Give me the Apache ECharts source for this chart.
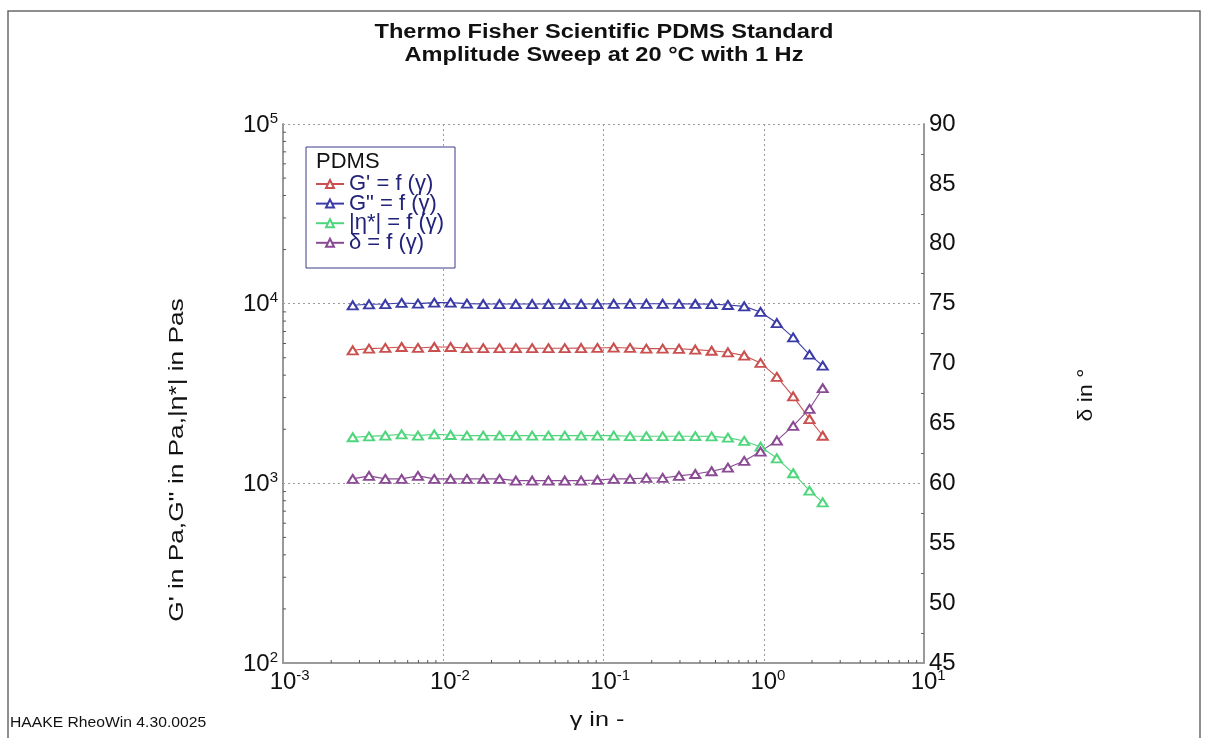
<!DOCTYPE html>
<html>
<head>
<meta charset="utf-8">
<script src="https://cdn.jsdelivr.net/npm/echarts@6/dist/echarts.min.js"></script>
<style>html,body{margin:0;padding:0;background:#fff}#c{width:1208px;height:738px}</style>
</head>
<body>
<div id="c"></div>
<script>
// ---- data ----
const gamma = [0.002723,0.003442,0.004351,0.005500,0.006954,0.008790,0.01111,0.01405,0.01776,0.02245,
  0.02838,0.03588,0.04535,0.05733,0.07248,0.09162,0.1158,0.1464,0.1851,0.2340,
  0.2958,0.3739,0.4727,0.5976,0.7553,0.9550,1.207,1.526,1.929,2.333];
const gPrime = [5500,5620,5670,5740,5670,5740,5740,5660,5650,5650,
  5650,5650,5650,5650,5660,5670,5700,5670,5620,5620,
  5610,5550,5470,5360,5140,4680,3910,3050,2280,1840];
const gDouble = [9790,9920,9950,10090,10000,10130,10130,10000,9950,9950,
  9950,9950,9950,9950,9950,9950,9980,9980,9980,9980,
  9970,9960,9940,9830,9660,8990,7800,6490,5200,4520];
const etaStar = [1805,1825,1842,1875,1842,1875,1858,1842,1842,1842,
  1842,1842,1842,1842,1842,1842,1842,1830,1830,1830,
  1830,1830,1825,1796,1722,1600,1378,1138,910,784];
const delta = [60.37,60.62,60.37,60.37,60.62,60.37,60.37,60.37,60.37,60.37,
  60.23,60.23,60.23,60.23,60.23,60.28,60.37,60.37,60.45,60.45,
  60.62,60.78,61.01,61.31,61.87,62.65,63.57,64.79,66.21,67.94];
const seriesNames = ["G' = f (\u03b3)", 'G" = f (\u03b3)', '|\u03b7*| = f (\u03b3)', '\u03b4 = f (\u03b3)'];
const seriesColors = ['#c9504f', '#3b3ba8', '#4fd67c', '#8a4a94'];
const xMinorTicks = [0.002,0.003,0.004,0.005,0.006,0.007,0.008,0.009,
  0.02,0.03,0.04,0.05,0.06,0.07,0.08,0.09,
  0.2,0.3,0.4,0.5,0.6,0.7,0.8,0.9,
  2,3,4,5,6,7,8,9];
const yMinorTicks = [200,300,400,500,600,700,800,900,
  2000,3000,4000,5000,6000,7000,8000,9000,
  20000,30000,40000,50000,60000,70000,80000,90000];
const X_MIN = 0.001, X_MAX = 10, Y_MIN = 100, Y_MAX = 100000;

const FONT = '"Liberation Sans", Arial, sans-serif';
const chart = echarts.init(document.getElementById('c'), null, {renderer: 'canvas'});

function pow10Label(v, withPad) {
  const e = Math.round(Math.log10(v));
  return (withPad ? '{h|' + e + '}' : '') + '{b|10}{s|' + e + '}';
}
const richSup = {
  b: {fontSize: 24, fontFamily: FONT, color: '#111', verticalAlign: 'bottom', lineHeight: 26},
  s: {fontSize: 15, fontFamily: FONT, color: '#111', verticalAlign: 'top', lineHeight: 26},
  h: {fontSize: 15, fontFamily: FONT, color: 'rgba(0,0,0,0)', verticalAlign: 'top', lineHeight: 26}
};

function makeLine(name, data, color, yIdx) {
  return {
    name: name, type: 'line', yAxisIndex: yIdx,
    data: gamma.map((g, i) => [g, data[i]]),
    symbol: 'emptyTriangle', symbolSize: [10, 8],
    lineStyle: {color: color, width: 1.1},
    itemStyle: {color: color, borderColor: color, borderWidth: 1.2},
    emphasis: {disabled: true}, animation: false, z: 3
  };
}

const option = {
  animation: false,
  backgroundColor: '#fff',
  grid: {left: 283, right: 284, top: 124, bottom: 75, containLabel: false},
  xAxis: {
    type: 'log', logBase: 10, min: X_MIN, max: X_MAX,
    axisLine: {show: true, lineStyle: {color: '#9a9a9a', width: 2}},
    axisTick: {show: false},
    minorTick: {show: false},
    axisLabel: {margin: 5, formatter: v => pow10Label(v, true), rich: richSup},
    splitLine: {show: true, lineStyle: {color: '#9a9a9a', type: [2, 3], width: 1}}
  },
  yAxis: [{
    type: 'log', logBase: 10, min: Y_MIN, max: Y_MAX,
    axisLine: {show: true, lineStyle: {color: '#9a9a9a', width: 2}},
    axisTick: {show: false},
    minorTick: {show: false},
    axisLabel: {margin: 5, formatter: v => pow10Label(v, false), rich: richSup},
    splitLine: {show: true, lineStyle: {color: '#9a9a9a', type: [2, 3], width: 1}}
  }, {
    type: 'value', min: 45, max: 90, interval: 5, position: 'right',
    axisLine: {show: true, lineStyle: {color: '#9a9a9a', width: 2}},
    axisTick: {show: false, inside: true},
    minorTick: {show: true, splitNumber: 2, length: 3, lineStyle: {color: '#666', width: 1}},
    axisLabel: {margin: 5, fontSize: 24, fontFamily: FONT, color: '#111'},
    splitLine: {show: false}
  }],
  legend: {
    data: seriesNames, orient: 'vertical', left: 315, top: 173, padding: 0, itemGap: -2.4,
    itemWidth: 28, itemHeight: 10, selectedMode: false, z: 10,
    textStyle: {fontFamily: FONT, fontSize: 22, color: '#22227a', lineHeight: 19.6}
  },
  series: [
    makeLine(seriesNames[0], gPrime, seriesColors[0], 0),
    makeLine(seriesNames[1], gDouble, seriesColors[1], 0),
    makeLine(seriesNames[2], etaStar, seriesColors[2], 0),
    makeLine(seriesNames[3], delta, seriesColors[3], 1),
    {
      type: 'custom', silent: true, clip: false, z: 4,
      data: xMinorTicks.map(v => [v, Y_MIN]),
      renderItem: (p, api) => {
        const c = api.coord([api.value(0), Y_MIN]);
        return {type: 'line', shape: {x1: c[0], y1: c[1], x2: c[0], y2: c[1] - 3}, style: {stroke: '#555', lineWidth: 1}};
      }
    },
    {
      type: 'custom', silent: true, clip: false, z: 4,
      data: yMinorTicks.map(v => [X_MIN, v]),
      renderItem: (p, api) => {
        const c = api.coord([X_MIN, api.value(1)]);
        return {type: 'line', shape: {x1: c[0], y1: c[1], x2: c[0] + 3, y2: c[1]}, style: {stroke: '#555', lineWidth: 1}};
      }
    }
  ],
  graphic: [
    {type: 'rect', shape: {x: 8, y: 11, width: 1192, height: 740}, style: {fill: 'none', stroke: '#6a6a6a', lineWidth: 1.5}, z: 1, silent: true},
    {type: 'text', x: 604, y: 32, scaleX: 1.18, style: {text: 'Thermo Fisher Scientific PDMS Standard', font: 'bold 20px ' + FONT, fill: '#111', textAlign: 'center', textVerticalAlign: 'middle'}, silent: true},
    {type: 'text', x: 604, y: 55, scaleX: 1.18, style: {text: 'Amplitude Sweep at 20 \u00b0C with 1 Hz', font: 'bold 20px ' + FONT, fill: '#111', textAlign: 'center', textVerticalAlign: 'middle'}, silent: true},
    {type: 'rect', shape: {x: 306, y: 147, width: 149, height: 121}, style: {fill: '#fff', stroke: '#3a3a8a', lineWidth: 1}, z: 5, silent: true},
    {type: 'text', x: 316, y: 162, style: {text: 'PDMS', font: '22px ' + FONT, fill: '#111', textAlign: 'left', textVerticalAlign: 'middle'}, z: 11, silent: true},
    {type: 'text', x: 177, y: 460, rotation: Math.PI / 2, scaleX: 1.25, style: {text: "G' in Pa,G'' in Pa,|\u03b7*| in Pas", font: '21px ' + FONT, fill: '#111', textAlign: 'center', textVerticalAlign: 'middle'}, silent: true},
    {type: 'text', x: 1086, y: 395, rotation: Math.PI / 2, scaleX: 1.1, style: {text: '\u03b4 in \u00b0', font: '21px ' + FONT, fill: '#111', textAlign: 'center', textVerticalAlign: 'middle'}, silent: true},
    {type: 'text', x: 597, y: 720, scaleX: 1.2, style: {text: '\u03b3 in -', font: '21px ' + FONT, fill: '#111', textAlign: 'center', textVerticalAlign: 'middle'}, silent: true},
    {type: 'text', x: 10, y: 723, scaleX: 1.12, style: {text: 'HAAKE RheoWin 4.30.0025', font: '14px ' + FONT, fill: '#111', textAlign: 'left', textVerticalAlign: 'middle'}, silent: true}
  ]
};
chart.setOption(option);
</script>
</body>
</html>
